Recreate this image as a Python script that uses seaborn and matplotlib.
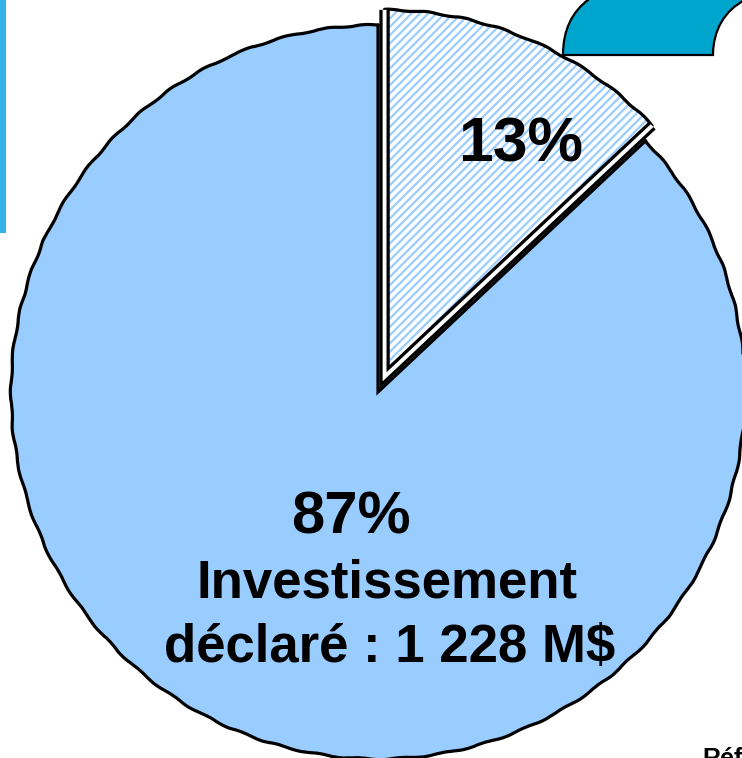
import numpy as np
import matplotlib
matplotlib.use("Agg")
import matplotlib.pyplot as plt
from matplotlib.path import Path
from matplotlib.patches import PathPatch, Rectangle
import seaborn as sns

# ---- data ----
categories = ["Autre", "Investissement déclaré"]
shares = [13, 87]
pct_labels = ["13%", "87%"]
main_label = "Investissement\ndéclaré : 1 228 M$"
ref_text = "Réf"

sns.set_theme(style="white")
plt.rcParams["font.family"] = ["Liberation Sans", "DejaVu Sans"]
plt.rcParams["hatch.linewidth"] = 1.6

W, H = 742, 758
fig = plt.figure(figsize=(W / 100, H / 100), dpi=100)
fig.patch.set_facecolor("white")

# background axes in pixel coordinates (y down) for decorations
bg = fig.add_axes([0, 0, 1, 1], zorder=0)
bg.set_xlim(0, W)
bg.set_ylim(H, 0)
bg.axis("off")

# left blue bar
bg.add_patch(Rectangle((0, 0), 6, 233, facecolor="#33B2E6", edgecolor="none"))

# teal decorative shape top-right
verts = [(563, 55), (713, 55),
         (713, 30), (725, 10), (745, 0),
         (750, -10), (590, -10), (588, 0),
         (572, 12), (563, 30), (563, 55),
         (563, 55)]
codes = [Path.MOVETO, Path.LINETO,
         Path.CURVE4, Path.CURVE4, Path.CURVE4,
         Path.LINETO, Path.LINETO, Path.LINETO,
         Path.CURVE4, Path.CURVE4, Path.CURVE4,
         Path.CLOSEPOLY]
bg.add_patch(PathPatch(Path(verts, codes), facecolor="#00A5CE",
                       edgecolor="black", lw=1.6, clip_on=False))

# pie axes: bounding box of the pie (center 378,392 px, radius 367 px)
cx, cy, R = 378, 392, 367
ax = fig.add_axes([(cx - R) / W, (H - cy - R) / H, 2 * R / W, 2 * R / H], zorder=1)

light_blue = "#99CCFF"
wedges, _ = ax.pie(
    shares,
    startangle=90,
    counterclock=False,
    explode=[0.045, 0],
    radius=1,
    colors=["white", light_blue],
    wedgeprops=dict(clip_on=False, linewidth=0),
)
ax.axis("off")
ax.set_xlim(-1, 1)
ax.set_ylim(-1, 1)
ax.set_aspect("auto")

small, big = wedges
# small slice: hatched light blue on white
small.set_hatch("////")
small.set_edgecolor(light_blue)
small.set_linewidth(0)
big.set_linewidth(0)

LW = 2.3


def outline(wedge, double=False):
    c = np.array(wedge.center)
    r = wedge.r
    t1, t2 = np.deg2rad(wedge.theta1), np.deg2rad(wedge.theta2)
    arc_t = np.linspace(t1, t2, 400)
    arc_line, = ax.plot(c[0] + r * np.cos(arc_t), c[1] + r * np.sin(arc_t),
                        color="black", lw=LW, clip_on=False, zorder=3,
                        solid_capstyle="round")
    arc_line.set_sketch_params(0.7, 45, 2)
    p1 = c + r * np.array([np.cos(t1), np.sin(t1)])
    p2 = c + r * np.array([np.cos(t2), np.sin(t2)])
    rx = [p1[0], c[0], p2[0]]
    ry = [p1[1], c[1], p2[1]]
    if double:
        ax.plot(rx, ry, color="black", lw=7.5, clip_on=False, zorder=3,
                solid_joinstyle="miter", solid_capstyle="butt")
        ax.plot(rx, ry, color="white", lw=2.8, clip_on=False, zorder=4,
                solid_joinstyle="miter", solid_capstyle="butt")
    else:
        ax.plot(rx, ry, color="black", lw=LW, clip_on=False, zorder=2.5,
                solid_joinstyle="miter", solid_capstyle="round")


outline(big)
outline(small, double=True)

# texts in pixel coordinates on an overlay axes
top = fig.add_axes([0, 0, 1, 1], zorder=5)
top.set_xlim(0, W)
top.set_ylim(H, 0)
top.axis("off")

top.text(521, 162, pct_labels[0], fontsize=45, fontweight="bold",
         ha="center", va="baseline", color="black")
top.text(351, 533, pct_labels[1], fontsize=43, fontweight="bold",
         ha="center", va="baseline", color="black")
lines = main_label.split("\n")
top.text(387, 597, lines[0], fontsize=38, fontweight="bold",
         ha="center", va="baseline", color="black")
top.text(390, 662, lines[1], fontsize=38, fontweight="bold",
         ha="center", va="baseline", color="black")
top.text(702, 766, ref_text, fontsize=18, fontweight="bold",
         ha="left", va="baseline", color="black", clip_on=False)

fig.savefig("out.png", dpi=100, facecolor="white")
